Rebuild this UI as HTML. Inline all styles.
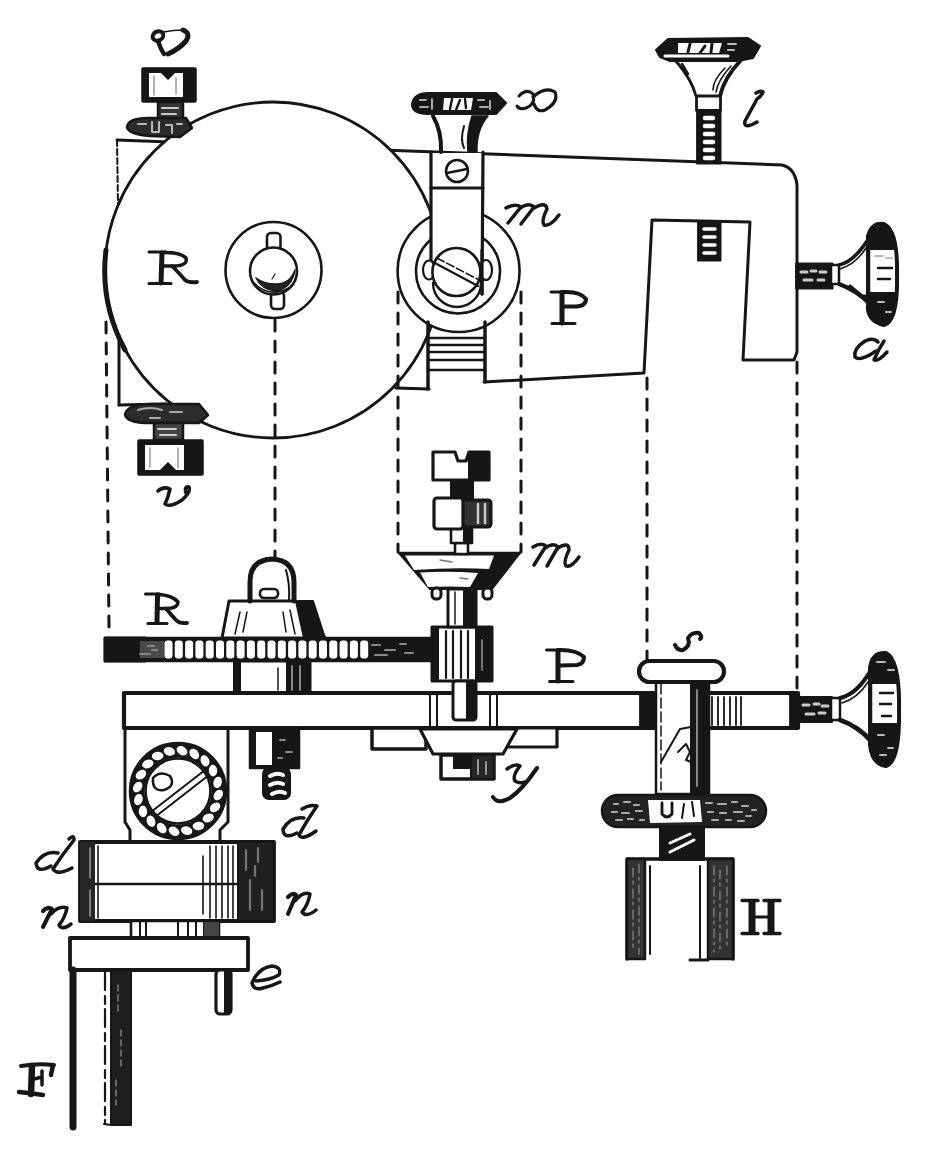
<!DOCTYPE html>
<html><head><meta charset="utf-8">
<style>
html,body{margin:0;padding:0;background:#fff;}
body{width:925px;height:1149px;overflow:hidden;}
svg{display:block;}
</style></head><body>
<svg width="925" height="1149" viewBox="0 0 925 1149">

<g fill="none" stroke="#161616" stroke-width="3" stroke-linejoin="round" stroke-linecap="round">

<!-- ===== TOP ASSEMBLY ===== -->
<!-- frame P -->
<path d="M117,140 L782,165 Q795,168 797,185 L797,352 L794,360 L743,360 L750,222 L652,220 L644,373 L484,382 L429,389 L119,405" fill="#fff" stroke="none"/>
<path d="M117,140 L782,165 Q795,168 797,185 L797,352 L794,360 L743,360 L750,222 L652,220 L644,373 L484,382"/>
<path d="M119,405 L166,404"/>
<path d="M396,388 L429,389" stroke-width="3.2"/>
<path d="M117,140 L118,205" stroke-width="2" stroke-dasharray="6,3"/>
<path d="M119,338 L119,405" stroke-width="3"/>
<!-- wheel R -->
<circle cx="273" cy="270" r="168" fill="#fff" stroke-width="2.8"/>
<path d="M106,250 A168,168 0 0 0 125,350" stroke-width="5"/>
<!-- hub -->
<circle cx="273.5" cy="270" r="48" stroke-width="2.6"/>
<rect x="267" y="233" width="13.5" height="17" rx="4" fill="#fff" stroke-width="2.6"/>
<rect x="271" y="292" width="13" height="17" rx="4" fill="#fff" stroke-width="2.6"/>
<circle cx="273.5" cy="271" r="23.5" fill="#fff" stroke-width="2.6"/>
<path d="M256,278 Q262,290 276,291 Q292,288 295,270 Q290,284 276,284 Q264,284 256,278Z" fill="#222" stroke-width="1.5"/>
<path d="M253,282 Q270,300 292,286" stroke-width="1.5"/>
<path d="M272,279 L275,274" stroke-width="1.2"/>
<!-- pulley m -->
<circle cx="458.6" cy="271" r="61" fill="#fff" stroke-width="2.6"/>
<circle cx="458" cy="271.5" r="42" stroke-width="2.6"/>
<path d="M433,283 A24,24 0 0 0 481,283" stroke-width="2.4"/>
<!-- bracket strip -->
<rect x="432" y="153" width="50" height="108" fill="#fff" stroke="none"/>
<path d="M431,152 L431,262 M483,152 L482,294" stroke-width="3.2"/>
<line x1="431" y1="188" x2="483" y2="188"/>
<circle cx="457" cy="171" r="11" stroke-width="2.6"/>
<line x1="447" y1="173" x2="467" y2="169" stroke-width="2.6"/>
<!-- screw head -->
<ellipse cx="429" cy="270" rx="6" ry="9.5" fill="#fff" stroke-width="2.2"/>
<ellipse cx="486" cy="270" rx="6" ry="10" fill="#fff" stroke-width="2.2"/>
<circle cx="456.4" cy="272" r="24" fill="#fff" stroke-width="2.6"/>
<path d="M433,262 L478,286" stroke-width="2.2"/>
<path d="M437,258 L481,281" stroke-width="1.6" stroke-dasharray="8,3"/>
<path d="M482,250 L482,294" stroke-width="3.2"/>
<!-- threaded block under pulley -->
<path d="M428,389 L428,322 M485,322 L485,382" stroke-width="3.5"/>
<path d="M428,338H484M428,345H484M428,352H484M428,360H484M428,370H484" stroke-width="2.6"/>


<!-- screw x -->
<path d="M433,116 Q442,132 441,152" stroke-width="4"/>
<path d="M472,116 L488,116 Q476,130 477,152 L468,152 Q466,134 472,116 Z" fill="#161616" stroke-width="1.5"/>
<path d="M464,126 Q460,140 464,148" stroke-width="2"/>
<path d="M412,104 Q414,93 428,93 L496,93 L506,103 L496,114 L428,114 Q412,114 412,104 Z" fill="#161616" stroke-width="2"/>
<path d="M444,98 L473,98 L471,110 L443,110 Z" fill="#fff" stroke="none"/>
<path d="M452,99 L450,109 M460,100 L456,110 M465,99 L466,108" stroke-width="2.4"/>
<path d="M420,100h6M420,107h8M432,99v10M478,100h6M480,107h8M490,101v8" stroke="#aaa" stroke-width="2"/>

<!-- screw l -->
<path d="M676,61 Q692,80 696,96" stroke-width="2.8"/>
<path d="M741,60 Q724,78 720,96" stroke-width="4"/>
<path d="M731,66 Q718,80 716,92 M725,68 Q713,80 713,90" stroke-width="1.6"/>
<path d="M682,64 L688,74" stroke-width="2.5"/>
<rect x="696.5" y="96" width="24" height="14.5" fill="#fff" stroke-width="2.8"/>
<rect x="697" y="110" width="24" height="54" fill="#161616" stroke-width="1"/>
<path d="M705,118h8M705,126h8M705,134h8M705,142h8M705,150h8M705,158h8" stroke="#fff" stroke-width="4.5"/>
<path d="M656,50 L668,39 L748,38 L760,46 L753,58 L738,61 L670,61 L660,57 Z" fill="#161616" stroke-width="2"/>
<path d="M678,43 L722,43 L719,53 L678,53 Z" fill="#fff" stroke="none"/>
<path d="M690,44 L688,52 M705,46 L700,53 M712,44 L711,52" stroke-width="3"/>
<path d="M665,56 L728,56" stroke="#fff" stroke-width="3"/>
<path d="M728,44h8M728,50h6" stroke="#bbb" stroke-width="2"/>
<rect x="698" y="221" width="23" height="40" fill="#161616" stroke-width="1"/>
<path d="M704,229h11M704,237h11M704,245h11M704,253h11" stroke="#fff" stroke-width="3.5"/>

<!-- screw a (top) -->
<rect x="796" y="263" width="37" height="26" fill="#161616" stroke-width="1"/>
<path d="M801,272h6M811,271h5M820,272h6M804,280h8M818,280h6" stroke="#ccc" stroke-width="3"/>
<rect x="831" y="265" width="8" height="19" fill="#fff" stroke-width="2.5"/>
<path d="M839,265 Q854,262 869,238" stroke-width="3.5"/>
<path d="M840,269 Q856,264 866,248" stroke-width="1.6"/>
<path d="M839,284 Q856,290 870,304" stroke-width="4"/>
<path d="M850,286 L862,296 L868,296" stroke-width="3"/>
<path d="M868,236 Q872,222 884,224 Q898,230 897,275 Q898,322 884,325 Q870,322 868,310 Z" fill="#fff" stroke-width="4"/>
<path d="M868,236 Q872,222 884,224 Q896,228 897,250 L868,250 Z" fill="#161616" stroke="none"/>
<path d="M868,292 L897,292 Q898,322 884,325 Q870,322 868,310 Z" fill="#161616" stroke="none"/>
<path d="M875,256h8M886,258h6M878,302h6M886,312h5" stroke="#bbb" stroke-width="2"/>
<path d="M878,268h14M878,279h12" stroke-width="2.5"/>
<line x1="869" y1="236" x2="869" y2="312" stroke-width="2.5"/>

<!-- screw v top -->
<rect x="143" y="69" width="52" height="32" fill="#161616" stroke-width="3.5"/>
<path d="M149,73 L161,73 L168,80 L175,73 L183,73 L183,97 L149,97 Z" fill="#fff" stroke="none"/>
<path d="M154,76v19M176,78v16" stroke="#999" stroke-width="1.5"/>
<rect x="158" y="102" width="25" height="17" fill="#333" stroke-width="2.5"/>
<path d="M162,108h16M162,114h14" stroke="#ccc" stroke-width="2"/>
<path d="M127,127 Q128,118 148,118 L186,118 L192,128 L180,137 L150,136 Q128,134 127,127Z" fill="#2c2c2c" stroke-width="2.5"/>
<path d="M138,124h8M152,122v10h7v-10M166,125h6v8M177,124h5" stroke="#bbb" stroke-width="2"/>
<!-- screw v bottom -->
<path d="M125,414 Q128,404 150,404 L199,404 L208,415 L199,423 L150,423 Q126,423 125,414Z" fill="#2c2c2c" stroke-width="2.5"/>
<path d="M138,410 Q150,406 162,410 M170,412h12 M150,418h10" stroke="#aaa" stroke-width="2"/>
<rect x="154" y="423" width="29" height="17" fill="#444" stroke-width="2.5"/>
<path d="M158,429h18M160,435h16" stroke="#ccc" stroke-width="2"/>
<rect x="139" y="441" width="63" height="33" fill="#161616" stroke-width="3.5"/>
<path d="M145,445 L184,445 L184,470 L176,470 L168,462 L160,470 L145,470 Z" fill="#fff" stroke="none"/>
<path d="M150,448v19M178,448v20" stroke="#999" stroke-width="1.5"/>

<!-- dashed projection lines -->
<g stroke-dasharray="11,10" stroke-width="3" stroke-linecap="round">
<line x1="106" y1="322" x2="109" y2="628"/>
<line x1="275" y1="320" x2="275" y2="558"/>
<line x1="398" y1="292" x2="398" y2="552"/>
<line x1="521" y1="292" x2="521" y2="552"/>
<line x1="647" y1="378" x2="647" y2="668"/>
<line x1="797" y1="362" x2="797" y2="690"/>
</g>

<!-- ===== BOTTOM ASSEMBLY ===== -->
<!-- box under bar (left) -->
<path d="M125,728 L125,822 L130,830 L130,842 M228,728 L228,822 L220,830 L220,842" stroke-width="3"/>
<circle cx="178" cy="791" r="48" fill="#fff" stroke-width="2.5"/><circle cx="178" cy="791" r="40.5" fill="none" stroke="#161616" stroke-width="14" stroke-linecap="butt"/><ellipse cx="218.3" cy="795.0" rx="5.8" ry="4.2" transform="rotate(123.7 218.3 795.0)" fill="#fff" stroke="none"/><ellipse cx="215.1" cy="807.3" rx="5.8" ry="4.2" transform="rotate(141.7 215.1 807.3)" fill="#fff" stroke="none"/><ellipse cx="208.2" cy="818.0" rx="5.8" ry="4.2" transform="rotate(159.7 208.2 818.0)" fill="#fff" stroke="none"/><ellipse cx="198.4" cy="826.0" rx="5.8" ry="4.2" transform="rotate(177.7 198.4 826.0)" fill="#fff" stroke="none"/><ellipse cx="186.6" cy="830.6" rx="5.8" ry="4.2" transform="rotate(195.7 186.6 830.6)" fill="#fff" stroke="none"/><ellipse cx="174.0" cy="831.3" rx="5.8" ry="4.2" transform="rotate(213.7 174.0 831.3)" fill="#fff" stroke="none"/><ellipse cx="161.7" cy="828.1" rx="5.8" ry="4.2" transform="rotate(231.7 161.7 828.1)" fill="#fff" stroke="none"/><ellipse cx="151.0" cy="821.2" rx="5.8" ry="4.2" transform="rotate(249.7 151.0 821.2)" fill="#fff" stroke="none"/><ellipse cx="143.0" cy="811.4" rx="5.8" ry="4.2" transform="rotate(267.7 143.0 811.4)" fill="#fff" stroke="none"/><ellipse cx="138.4" cy="799.6" rx="5.8" ry="4.2" transform="rotate(285.7 138.4 799.6)" fill="#fff" stroke="none"/><ellipse cx="137.7" cy="787.0" rx="5.8" ry="4.2" transform="rotate(303.7 137.7 787.0)" fill="#fff" stroke="none"/><ellipse cx="140.9" cy="774.7" rx="5.8" ry="4.2" transform="rotate(321.7 140.9 774.7)" fill="#fff" stroke="none"/><ellipse cx="147.8" cy="764.0" rx="5.8" ry="4.2" transform="rotate(339.7 147.8 764.0)" fill="#fff" stroke="none"/><ellipse cx="157.6" cy="756.0" rx="5.8" ry="4.2" transform="rotate(357.7 157.6 756.0)" fill="#fff" stroke="none"/><ellipse cx="169.4" cy="751.4" rx="5.8" ry="4.2" transform="rotate(375.7 169.4 751.4)" fill="#fff" stroke="none"/><ellipse cx="182.0" cy="750.7" rx="5.8" ry="4.2" transform="rotate(393.7 182.0 750.7)" fill="#fff" stroke="none"/><ellipse cx="194.3" cy="753.9" rx="5.8" ry="4.2" transform="rotate(411.7 194.3 753.9)" fill="#fff" stroke="none"/><ellipse cx="205.0" cy="760.8" rx="5.8" ry="4.2" transform="rotate(429.7 205.0 760.8)" fill="#fff" stroke="none"/><ellipse cx="213.0" cy="770.6" rx="5.8" ry="4.2" transform="rotate(447.7 213.0 770.6)" fill="#fff" stroke="none"/><ellipse cx="217.6" cy="782.4" rx="5.8" ry="4.2" transform="rotate(465.7 217.6 782.4)" fill="#fff" stroke="none"/><circle cx="178" cy="791" r="32.5" fill="#fff" stroke-width="2.6"/>
<path d="M151,812 L205,770 M155,817 L209,775" stroke-width="2"/>
<path d="M153,778 Q160,770 170,776 Q176,786 164,790 Q152,792 153,778Z" stroke-width="2.5"/>
<!-- d/n block -->
<rect x="80" y="842" width="194" height="79" fill="#fff" stroke-width="3.8"/>
<line x1="80" y1="884" x2="274" y2="884" stroke-width="2.6"/>
<rect x="238" y="842" width="36" height="79" fill="#202020" stroke-width="2"/>
<path d="M246,850v20M250,880v30M258,848v14M262,890v20M255,866v10" stroke="#777" stroke-width="2.2"/>
<rect x="80" y="842" width="15" height="79" fill="#262626" stroke="none"/>
<path d="M90,848v30M90,890v26" stroke="#999" stroke-width="1.5"/>
<path d="M98,846v72M203,856v58M210,846v72M216,846v72M222,846v72M228,846v72M233,846v72" stroke-width="1.6"/>
<!-- small cylinder -->
<rect x="131" y="921" width="88" height="17" fill="#fff" stroke-width="2.6"/>
<path d="M140,922v15M146,922v15M178,922v15M188,922v15M196,922v15M204,922v15" stroke-width="2"/>
<rect x="204" y="922" width="15" height="16" fill="#444" stroke="none"/>
<!-- plate e -->
<rect x="70" y="938" width="178" height="32" fill="#fff" stroke-width="3.8"/>
<!-- F post -->
<line x1="73" y1="970" x2="73" y2="1127" stroke-width="7"/>
<rect x="111" y="970" width="20" height="155" fill="#1e1e1e" stroke-width="2"/>
<path d="M118,985v30M121,1030v40M116,1080v25" stroke="#777" stroke-width="1.6" stroke-dasharray="6,4"/>
<line x1="105" y1="972" x2="105" y2="1124" stroke-width="2.2" stroke-dasharray="18,6,8,5"/>
<path d="M104,1124 L111,1125" stroke-width="2"/>
<rect x="216" y="970" width="15" height="44" rx="4" fill="#fff" stroke-width="3.2"/>
<rect x="224" y="971" width="7" height="42" fill="#161616" stroke="none"/>

<!-- gear R -->
<rect x="105" y="638" width="327" height="23" fill="#161616" stroke-width="2.5"/>
<rect x="105" y="638" width="40" height="23" fill="#161616" stroke-width="3"/>
<rect x="140" y="641" width="24" height="17" fill="#4a4a4a" stroke="none"/>
<path d="M372,645h8M385,650h10M400,644h6M375,655h12M405,653h8M148,646h6M140,654h10M152,650h5" stroke="#888" stroke-width="2" stroke-linecap="round"/>
<g fill="#fff" stroke="none"><rect x="164.5" y="640.5" width="8" height="18" rx="3"/><rect x="174.8" y="640.5" width="8" height="18" rx="3"/><rect x="185.1" y="640.5" width="8" height="18" rx="3"/><rect x="195.4" y="640.5" width="8" height="18" rx="3"/><rect x="205.7" y="640.5" width="8" height="18" rx="3"/><rect x="216.0" y="640.5" width="8" height="18" rx="3"/><rect x="226.3" y="640.5" width="8" height="18" rx="3"/><rect x="236.6" y="640.5" width="8" height="18" rx="3"/><rect x="246.9" y="640.5" width="8" height="18" rx="3"/><rect x="257.2" y="640.5" width="8" height="18" rx="3"/><rect x="267.5" y="640.5" width="8" height="18" rx="3"/><rect x="277.8" y="640.5" width="8" height="18" rx="3"/><rect x="288.1" y="640.5" width="8" height="18" rx="3"/><rect x="298.4" y="640.5" width="8" height="18" rx="3"/><rect x="308.7" y="640.5" width="8" height="18" rx="3"/><rect x="319.0" y="640.5" width="8" height="18" rx="3"/><rect x="329.3" y="640.5" width="8" height="18" rx="3"/><rect x="339.6" y="640.5" width="8" height="18" rx="3"/><rect x="349.9" y="640.5" width="8" height="18" rx="3"/><rect x="360.2" y="640.5" width="8" height="18" rx="3"/></g>
<!-- hub under gear -->
<rect x="235" y="661" width="75" height="32" fill="#fff" stroke-width="3"/>
<rect x="233" y="661" width="8" height="32" fill="#161616" stroke="none"/>
<rect x="287" y="661" width="23" height="32" fill="#161616" stroke-width="2"/>
<path d="M292,666v24M300,666v24" stroke="#888" stroke-width="2"/>
<line x1="278" y1="668" x2="278" y2="690" stroke-width="1.5"/>
<!-- bell nut -->
<path d="M229,601 L296,601 L325,638 L222,638 Z" fill="#fff" stroke-width="3"/>
<path d="M296,601 L313,601 L325,638 L304,638 Z" fill="#161616" stroke-width="2"/>
<path d="M240,612 l-5,22 M247,612 l-4,20 M283,612 l3,20 M290,610 l5,24" stroke-width="1.5"/>
<!-- hoop -->
<path d="M250,601 L250,582 Q250,560 272,559 Q294,560 294,582 L294,601" stroke-width="5"/>
<path d="M286,570 Q290,584 289,600" stroke-width="2"/>
<rect x="260" y="589" width="18" height="9" rx="4" fill="#fff" stroke-width="2.6"/>

<!-- bar -->
<rect x="124" y="693" width="674" height="35" fill="#fff" stroke-width="4.2"/>
<path d="M430,693v35M437,693v35M490,693v35M497,693v35" stroke-width="2"/>
<rect x="640" y="693" width="15" height="35" fill="#161616" stroke-width="1"/>
<path d="M712,697v28M718,697v28M724,697v28M730,697v28M736,697v28M741,697v28" stroke-width="1.8"/>
<rect x="790" y="693" width="8" height="35" fill="#161616" stroke-width="1"/>

<!-- pinion -->
<rect x="432" y="627" width="60" height="54" fill="#fff" stroke-width="3"/>
<rect x="432" y="627" width="7" height="54" fill="#161616" stroke="none"/>
<rect x="476" y="627" width="16" height="54" fill="#161616" stroke-width="2"/>
<path d="M446,631v47M453,631v47M461,631v47M468,631v47" stroke-width="2.2"/>
<path d="M482,640v30" stroke="#777" stroke-width="2"/>
<!-- spindle -->
<rect x="448" y="589" width="28" height="38" fill="#fff" stroke-width="3"/>
<rect x="463" y="589" width="13" height="38" fill="#161616" stroke="none"/>
<path d="M455,592v32" stroke-width="1.5"/>
<rect x="453" y="681" width="23" height="39" rx="3" fill="#fff" stroke-width="3"/>
<rect x="466" y="681" width="10" height="39" fill="#161616" stroke="none"/>
<!-- conical pulley -->
<path d="M399,553 L520,553 L492,589 L430,589 Z" fill="#161616" stroke-width="2"/>
<path d="M405,555.5 L494,555.5 L489,569 Q455,567 414,570 Z" fill="#fff" stroke="none"/>
<path d="M420,572.5 Q450,571 478,573 L470,587 Q448,586 428,587 Z" fill="#fff" stroke="none"/>
<path d="M440,560 l12,2 M460,578 l8,1" stroke="#777" stroke-width="1.5"/>
<path d="M399,553 L520,553" stroke-width="2.5"/>
<rect x="432" y="588" width="9" height="11" rx="4" fill="#fff" stroke-width="3"/>
<rect x="483" y="588" width="9" height="11" rx="4" fill="#fff" stroke-width="3"/>
<!-- stack above pulley -->
<rect x="455" y="543" width="13" height="11" fill="#fff" stroke-width="2.6"/>
<rect x="451" y="528" width="21" height="15" fill="#fff" stroke-width="2.6"/>
<rect x="463" y="528" width="9" height="15" fill="#161616" stroke="none"/>
<rect x="462" y="500" width="29" height="27" rx="3" fill="#333" stroke-width="3"/>
<path d="M478,504v19M485,504v19" stroke="#ccc" stroke-width="2.5"/>
<rect x="434" y="498" width="29" height="31" rx="3" fill="#fff" stroke-width="3.2"/>
<rect x="451" y="480" width="22" height="18" fill="#161616" stroke-width="2"/>
<path d="M433,452 L455,452 L458,461 L466,461 L469,452 L489,452 L489,480 L433,480 Z" fill="#fff" stroke-width="3.2"/>
<rect x="469" y="452" width="20" height="28" fill="#161616" stroke-width="2"/>

<!-- under-bar plate and y nut -->
<path d="M372,728 L372,749 L426,749 L426,728 Z" fill="#fff" stroke-width="3.5"/>
<path d="M503,728 L503,747 L557,747 L557,728 Z" fill="#fff" stroke-width="3.2"/>
<path d="M420,729 L433,754 L503,754 L517,729 Z" fill="#fff" stroke-width="3.2"/>
<rect x="441" y="755" width="53" height="24" fill="#fff" stroke-width="3.5"/>
<rect x="471" y="755" width="23" height="24" fill="#262626" stroke-width="2"/>
<rect x="453" y="755" width="18" height="14" fill="#161616" stroke="none"/>
<path d="M478,760v14M486,762v12" stroke="#999" stroke-width="2"/>
<!-- left screw under bar -->
<rect x="250" y="729" width="49" height="39" fill="#161616" stroke-width="2.5"/>
<rect x="256" y="732" width="16" height="33" fill="#fff" stroke="none"/>
<path d="M280,740h5M286,752h6M278,758h4" stroke="#888" stroke-width="2"/>
<rect x="263" y="768" width="27" height="31" rx="6" fill="#161616" stroke-width="2"/>
<path d="M270,776 Q277,772 283,775M270,785 Q277,781 283,784M272,794 Q279,790 285,793" stroke="#fff" stroke-width="4"/>

<!-- s post -->
<rect x="656" y="680" width="53" height="114" fill="#fff" stroke-width="2.5"/>
<rect x="691" y="680" width="18" height="114" fill="#161616" stroke-width="2"/>
<path d="M697,690v96" stroke="#888" stroke-width="2"/>
<line x1="661" y1="684" x2="661" y2="790" stroke-width="1.5" stroke-dasharray="10,4"/>
<path d="M661,762 L680,729 L691,727 M678,752 L686,744 L690,752 L686,760 L691,762" stroke-width="2"/>
<rect x="639" y="661" width="85" height="21" rx="10.5" fill="#fff" stroke-width="4.2"/>
<!-- a screw bottom -->
<rect x="797" y="697" width="35" height="25" fill="#161616" stroke-width="2"/>
<path d="M803,705h6M814,704h5M822,706h6M806,714h8M819,713h6" stroke="#ccc" stroke-width="3"/>
<rect x="831" y="698" width="9" height="22" fill="#fff" stroke-width="2.5"/>
<path d="M840,698 Q858,694 872,668" stroke-width="4"/>
<path d="M842,703 Q858,698 868,682" stroke-width="1.6"/>
<path d="M840,720 Q858,726 872,742" stroke-width="4.5"/>
<path d="M850,724 L864,734" stroke-width="3"/>
<path d="M870,668 Q872,652 886,653 Q900,660 899,710 Q900,762 886,766 Q872,764 870,745 Z" fill="#fff" stroke-width="4"/>
<path d="M870,668 Q872,652 886,653 Q898,658 899,684 L870,684 Z" fill="#161616" stroke="none"/>
<path d="M870,723 L899,723 Q900,762 886,766 Q872,764 870,745 Z" fill="#161616" stroke="none"/>
<path d="M877,662h8M888,670h6M878,735h6M888,748h5M880,755h6" stroke="#bbb" stroke-width="2"/>
<path d="M880,693h13M880,704h11M882,716h9" stroke-width="2.5"/>
<line x1="871" y1="668" x2="871" y2="745" stroke-width="2.5"/>
<!-- lower wheel nut -->
<rect x="602" y="795" width="164" height="32" rx="16" fill="#222" stroke-width="2.5"/>
<path d="M614,804h4M624,802h6M634,805h5M612,812h5M622,813h7M636,811h6M616,820h6M628,819h5M640,820h4M706,803h6M718,804h8M732,802h5M742,806h6M752,810h4M708,812h5M720,813h6M734,812h8M746,816h5M712,820h6M726,820h5M738,821h6" stroke="#aaa" stroke-width="2.2" stroke-linecap="round"/>
<path d="M648,800 L700,800 L702,822 L650,823 Z" fill="#fff" stroke="none"/>
<path d="M662,803 v11 q5,6 10,0 v-11" stroke-width="2.8"/>
<path d="M684,804 L682,818 M692,802 L694,816" stroke-width="2"/>
<!-- thread -->
<rect x="660" y="826" width="44" height="34" fill="#161616" stroke-width="2"/>
<path d="M670,852 L694,840 M670,843 L690,834" stroke="#fff" stroke-width="3"/>
<!-- H fork -->
<path d="M627,959 L627,859 L733,859 L733,959" stroke-width="3.5"/>
<rect x="627" y="859" width="18" height="100" fill="#333" stroke-width="2.5"/>
<rect x="708" y="859" width="25" height="100" fill="#333" stroke-width="2.5"/>
<path d="M633,868v84M639,864v90M714,866v86M720,870v80M727,866v84" stroke="#8a8a8a" stroke-width="1.2" stroke-dasharray="9,4,3,5"/>
<path d="M650,866v88M700,866v92" stroke-width="2"/>
<path d="M690,960 h18" stroke-width="3"/>
</g>



<g fill="none" stroke="#161616" stroke-linecap="round" stroke-linejoin="round">
<!-- v top -->
<path d="M158,41 Q160,48 164,54" stroke-width="4.5"/>
<ellipse cx="158" cy="36" rx="5.5" ry="4.5" transform="rotate(-25 158 36)" stroke-width="4"/>
<path d="M163,32 Q174,30 183,30" stroke-width="1.6"/>
<path d="M183,30 Q191,33 186,41 Q179,49 168,54" stroke-width="5"/>
<path d="M163,54 L168,54" stroke-width="1.5"/>
<!-- x -->
<path d="M519,96 Q527,88 533,94 Q536,104 526,108 Q519,110 517,106" stroke-width="3"/>
<path d="M533,97 Q545,86 555,92 Q559,102 545,110 Q537,113 534,104" stroke-width="3.2"/>
<!-- l -->
<path d="M756,93 Q761,90 763,92 Q761,97 757,99 L745,121 Q743,130 757,122" stroke-width="3.5"/>
<!-- m top -->
<path d="M506,208 Q515,203 521,207 L508,223" stroke-width="3.5"/>
<path d="M520,208 Q529,202 534,207 L521,224" stroke-width="3.5"/>
<path d="M534,208 Q546,201 547,209 Q541,221 544,225 Q550,227 559,215" stroke-width="3.5"/>
<!-- a top -->
<path d="M878,342 Q873,337 865,341 Q853,349 855,357 Q860,362 876,351" stroke-width="3.5"/>
<path d="M884,341 Q878,350 874,360 Q878,362 887,352" stroke-width="3.5"/>
<!-- v bottom -->
<path d="M158,491 Q163,486 170,489 Q168,498 165,504 Q170,508 182,500 Q191,492 189,487 Q184,486 186,493" stroke-width="3.5"/>
<!-- m bottom -->
<path d="M533,547 Q541,542 546,546 L534,565" stroke-width="3.5"/>
<path d="M545,548 Q554,542 558,547 L547,566" stroke-width="3.5"/>
<path d="M558,548 Q569,541 569,550 Q563,562 566,566 Q571,568 579,557" stroke-width="3.5"/>
<!-- s -->
<path d="M675,645 Q678,651 683,650 Q691,646 688,638 Q692,632 699,633 Q703,637 700,639" stroke-width="4"/>
<!-- y -->
<path d="M507,769 Q515,763 520,766 Q512,776 515,781 Q520,784 524,782" stroke-width="3.5"/>
<path d="M537,768 Q522,790 510,798 Q498,805 493,797" stroke-width="4"/>
<!-- d right -->
<path d="M302,809 Q310,804 317,806 Q306,822 299,835 Q302,841 316,831" stroke-width="3.5"/>
<path d="M304,818 Q291,816 283,829 Q283,840 297,833" stroke-width="3.5"/>
<!-- n right -->
<path d="M288,897 Q293,892 296,895 L288,914" stroke-width="4"/>
<path d="M295,901 Q303,891 310,894 Q308,905 302,912 Q306,918 316,910" stroke-width="3.5"/>
<!-- d left -->
<path d="M69,839 Q74,834 74,840 Q62,855 53,869 Q57,876 72,868" stroke-width="3.5"/>
<path d="M58,853 Q45,850 36,863 Q37,874 51,866" stroke-width="3.5"/>
<!-- n left -->
<path d="M43,911 Q48,906 52,909 L43,927" stroke-width="4"/>
<path d="M51,914 Q59,905 67,908 Q65,918 59,925 Q62,931 71,924" stroke-width="3.5"/>
<!-- R top -->
<path d="M149,252 L166,252" stroke-width="3"/>
<path d="M162,253 L161,283" stroke-width="5"/>
<path d="M149,283.5 L171,283.5" stroke-width="3"/>
<path d="M163,252.5 Q180,252 186,258 Q188,265 176,266 L162,266" stroke-width="3.5"/>
<path d="M172,266 Q180,274 185,280 Q189,283 197,282" stroke-width="3.8"/>
<!-- P top -->
<path d="M551,292 L564,292" stroke-width="3"/>
<path d="M562,292.5 L562,323" stroke-width="5"/>
<path d="M552,323.5 L575,323.5" stroke-width="3"/>
<path d="M563,292 Q580,291 586,299 Q586,306 576,306.5 L564,306.5" stroke-width="4"/>
<!-- R bottom -->
<path d="M145.5,594 L160,594" stroke-width="3"/>
<path d="M157.5,595 L157,622" stroke-width="5"/>
<path d="M148,623.5 L167,623.5" stroke-width="3"/>
<path d="M158,594.5 Q172,595 178,602 Q178,608 168,608.5 L158,608.5" stroke-width="3.5"/>
<path d="M166,608.5 Q172,616 177,621 Q180,623.5 187,623" stroke-width="3.8"/>
<!-- P bottom -->
<path d="M546.5,650 L560,650" stroke-width="3"/>
<path d="M558,650.5 L558,681" stroke-width="5"/>
<path d="M549.5,681.5 L573,681.5" stroke-width="3"/>
<path d="M559,650 Q576,649.5 584,657 Q584,664 577,665 L560,665.5" stroke-width="4"/>
<!-- H -->
<path d="M742,900.5h16M742,933.5h16M764,900.5h16M764,933.5h16" stroke-width="3.4"/>
<path d="M752,901v32M771,901v32" stroke-width="7" stroke-linecap="butt"/>
<path d="M754,917h15" stroke-width="3"/>
<!-- F -->
<path d="M21,1066 Q38,1063 54,1065" stroke-width="4"/>
<path d="M53,1065 L51,1075" stroke-width="4.5"/>
<path d="M32,1066 L31,1094" stroke-width="6.5"/>
<path d="M19,1092 Q30,1093 43,1095" stroke-width="4.5"/>
<path d="M34,1079 L42,1077 M42,1071 L42,1085" stroke-width="3.5"/>
<!-- e -->
<path d="M256,981 Q270,980 279,975 Q282,967 272,966 Q258,968 252,983 Q254,991 263,988 Q272,986 280,982" stroke-width="3.5"/>
</g>

</svg>
</body></html>
